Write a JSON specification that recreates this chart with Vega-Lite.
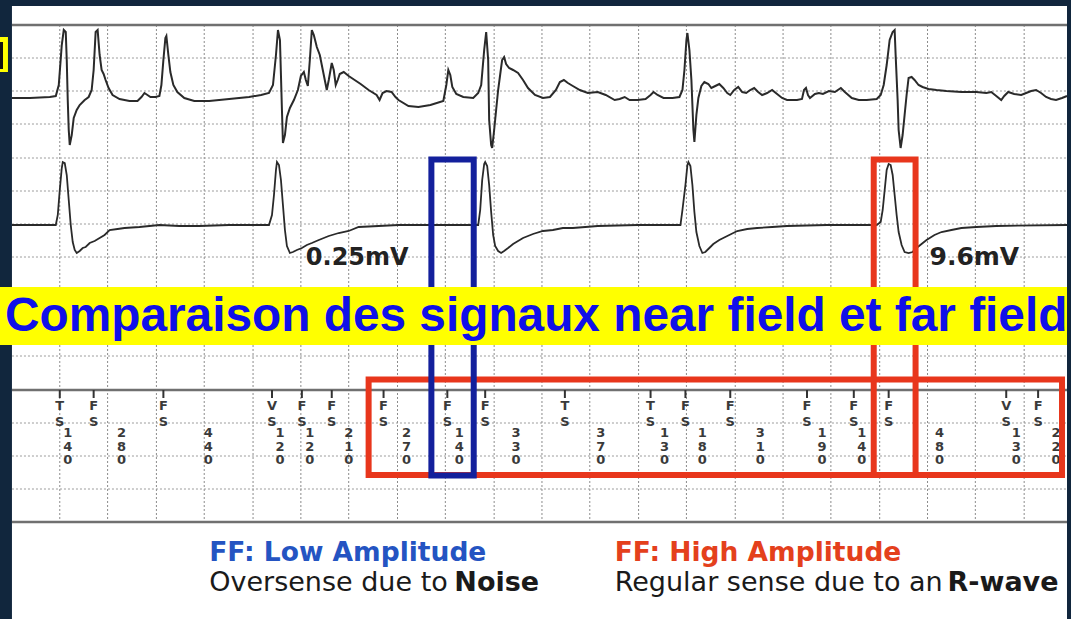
{
  "$schema": "https://vega.github.io/schema/vega-lite/v6.json",
  "width": 1071,
  "height": 619,
  "padding": 0,
  "autosize": {"type": "fit", "contains": "padding"},
  "background": "#11263d",
  "config": {"view": {"stroke": null}, "axis": {"disable": true}},
  "datasets": {
    "trace1": [
      {"t":12,"v":98},{"t":30,"v":98},{"t":50,"v":97},{"t":56,"v":96},{"t":59,"v":85},{"t":62,"v":45},{"t":64,"v":30},{"t":66,"v":32},{"t":67,"v":60},{"t":68,"v":100},{"t":69,"v":130},{"t":70,"v":145},{"t":72,"v":135},{"t":74,"v":118},{"t":77,"v":110},{"t":80,"v":105},{"t":85,"v":100},{"t":89,"v":97},{"t":92,"v":90},{"t":94,"v":70},{"t":96,"v":32},{"t":98,"v":30},{"t":100,"v":55},{"t":102,"v":70},{"t":104,"v":74},{"t":106,"v":80},{"t":109,"v":88},{"t":113,"v":95},{"t":120,"v":99},{"t":130,"v":101},{"t":138,"v":101},{"t":142,"v":97},{"t":145,"v":93},{"t":148,"v":95},{"t":151,"v":97},{"t":156,"v":97},{"t":160,"v":96},{"t":162,"v":85},{"t":164,"v":60},{"t":166,"v":38},{"t":167,"v":36},{"t":169,"v":55},{"t":171,"v":72},{"t":174,"v":85},{"t":178,"v":92},{"t":185,"v":98},{"t":195,"v":101},{"t":210,"v":101},{"t":230,"v":99},{"t":250,"v":97},{"t":262,"v":95},{"t":270,"v":93},{"t":274,"v":85},{"t":277,"v":55},{"t":279,"v":30},{"t":281,"v":40},{"t":282,"v":75},{"t":283,"v":110},{"t":284,"v":143},{"t":286,"v":135},{"t":288,"v":117},{"t":291,"v":108},{"t":295,"v":100},{"t":299,"v":90},{"t":302,"v":76},{"t":305,"v":72},{"t":307,"v":80},{"t":309,"v":86},{"t":311,"v":60},{"t":313,"v":30},{"t":315,"v":35},{"t":318,"v":47},{"t":321,"v":55},{"t":324,"v":70},{"t":328,"v":90},{"t":330,"v":80},{"t":333,"v":63},{"t":335,"v":70},{"t":337,"v":85},{"t":339,"v":80},{"t":341,"v":74},{"t":345,"v":72},{"t":350,"v":76},{"t":356,"v":80},{"t":362,"v":84},{"t":370,"v":90},{"t":378,"v":95},{"t":381,"v":100},{"t":384,"v":93},{"t":388,"v":91},{"t":393,"v":92},{"t":397,"v":97},{"t":400,"v":100},{"t":410,"v":106},{"t":420,"v":107},{"t":432,"v":105},{"t":445,"v":101},{"t":448,"v":85},{"t":450,"v":70},{"t":452,"v":75},{"t":454,"v":87},{"t":458,"v":94},{"t":465,"v":97},{"t":475,"v":98},{"t":480,"v":93},{"t":483,"v":85},{"t":486,"v":50},{"t":488,"v":32},{"t":490,"v":60},{"t":491,"v":120},{"t":493,"v":145},{"t":494,"v":148},{"t":496,"v":130},{"t":498,"v":110},{"t":500,"v":90},{"t":502,"v":75},{"t":504,"v":60},{"t":506,"v":57},{"t":508,"v":64},{"t":511,"v":68},{"t":515,"v":70},{"t":520,"v":73},{"t":525,"v":80},{"t":530,"v":88},{"t":537,"v":95},{"t":545,"v":98},{"t":552,"v":97},{"t":558,"v":90},{"t":562,"v":82},{"t":566,"v":80},{"t":570,"v":83},{"t":575,"v":86},{"t":582,"v":90},{"t":590,"v":93},{"t":600,"v":92},{"t":608,"v":95},{"t":617,"v":100},{"t":622,"v":99},{"t":627,"v":97},{"t":632,"v":100},{"t":640,"v":100},{"t":648,"v":99},{"t":653,"v":95},{"t":656,"v":92},{"t":660,"v":95},{"t":666,"v":98},{"t":675,"v":98},{"t":682,"v":97},{"t":685,"v":90},{"t":687,"v":70},{"t":689,"v":40},{"t":690,"v":33},{"t":692,"v":50},{"t":694,"v":80},{"t":696,"v":130},{"t":697,"v":142},{"t":699,"v":115},{"t":701,"v":98},{"t":704,"v":86},{"t":707,"v":82},{"t":711,"v":84},{"t":714,"v":88},{"t":718,"v":86},{"t":722,"v":84},{"t":726,"v":88},{"t":730,"v":93},{"t":733,"v":95},{"t":737,"v":90},{"t":741,"v":87},{"t":745,"v":92},{"t":749,"v":93},{"t":753,"v":90},{"t":757,"v":88},{"t":761,"v":92},{"t":765,"v":95},{"t":770,"v":93},{"t":775,"v":90},{"t":780,"v":94},{"t":785,"v":98},{"t":790,"v":100},{"t":800,"v":100},{"t":805,"v":99},{"t":807,"v":90},{"t":809,"v":88},{"t":811,"v":95},{"t":813,"v":98},{"t":818,"v":94},{"t":822,"v":93},{"t":826,"v":94},{"t":832,"v":91},{"t":838,"v":92},{"t":844,"v":88},{"t":848,"v":92},{"t":855,"v":98},{"t":862,"v":100},{"t":870,"v":100},{"t":880,"v":99},{"t":884,"v":95},{"t":887,"v":85},{"t":890,"v":65},{"t":893,"v":40},{"t":896,"v":32},{"t":898,"v":30},{"t":899,"v":55},{"t":901,"v":100},{"t":902,"v":130},{"t":904,"v":148},{"t":906,"v":135},{"t":908,"v":115},{"t":910,"v":95},{"t":912,"v":78},{"t":915,"v":77},{"t":918,"v":80},{"t":922,"v":85},{"t":926,"v":87},{"t":932,"v":89},{"t":940,"v":90},{"t":950,"v":91},{"t":965,"v":92},{"t":980,"v":92},{"t":990,"v":93},{"t":995,"v":92},{"t":1000,"v":96},{"t":1005,"v":100},{"t":1008,"v":96},{"t":1012,"v":92},{"t":1018,"v":94},{"t":1025,"v":95},{"t":1030,"v":93},{"t":1035,"v":91},{"t":1040,"v":90},{"t":1045,"v":93},{"t":1050,"v":97},{"t":1055,"v":99},{"t":1060,"v":100},{"t":1066,"v":98},{"t":1071,"v":96}
    ],
    "trace2": [
      {"t":12,"v":225},{"t":56,"v":225},{"t":58,"v":215},{"t":60,"v":190},{"t":62,"v":168},{"t":63,"v":162},{"t":65,"v":163},{"t":67,"v":175},{"t":69,"v":200},{"t":71,"v":225},{"t":73,"v":242},{"t":75,"v":250},{"t":77,"v":253},{"t":80,"v":251},{"t":83,"v":248},{"t":86,"v":247},{"t":90,"v":243},{"t":95,"v":241},{"t":100,"v":238},{"t":105,"v":235},{"t":110,"v":230},{"t":118,"v":229},{"t":125,"v":228},{"t":140,"v":227},{"t":150,"v":226},{"t":160,"v":225},{"t":180,"v":226},{"t":200,"v":226},{"t":230,"v":225},{"t":270,"v":225},{"t":273,"v":215},{"t":275,"v":195},{"t":277,"v":170},{"t":278,"v":162},{"t":280,"v":165},{"t":282,"v":180},{"t":284,"v":205},{"t":286,"v":230},{"t":288,"v":246},{"t":291,"v":253},{"t":294,"v":252},{"t":298,"v":250},{"t":303,"v":248},{"t":308,"v":245},{"t":313,"v":243},{"t":320,"v":240},{"t":330,"v":236},{"t":340,"v":233},{"t":350,"v":231},{"t":360,"v":227},{"t":380,"v":226},{"t":400,"v":225},{"t":480,"v":225},{"t":482,"v":210},{"t":484,"v":180},{"t":486,"v":164},{"t":487,"v":162},{"t":489,"v":166},{"t":491,"v":185},{"t":493,"v":212},{"t":495,"v":235},{"t":497,"v":246},{"t":500,"v":251},{"t":503,"v":253},{"t":506,"v":251},{"t":510,"v":248},{"t":515,"v":244},{"t":520,"v":241},{"t":525,"v":238},{"t":535,"v":234},{"t":545,"v":231},{"t":555,"v":230},{"t":565,"v":228},{"t":575,"v":228},{"t":600,"v":226},{"t":640,"v":225},{"t":683,"v":225},{"t":685,"v":210},{"t":688,"v":185},{"t":690,"v":165},{"t":691,"v":162},{"t":693,"v":166},{"t":695,"v":185},{"t":697,"v":212},{"t":699,"v":232},{"t":702,"v":246},{"t":705,"v":253},{"t":708,"v":252},{"t":712,"v":248},{"t":716,"v":244},{"t":722,"v":240},{"t":730,"v":236},{"t":740,"v":231},{"t":750,"v":229},{"t":760,"v":228},{"t":775,"v":227},{"t":790,"v":226},{"t":830,"v":225},{"t":880,"v":225},{"t":884,"v":222},{"t":886,"v":210},{"t":888,"v":190},{"t":890,"v":170},{"t":892,"v":164},{"t":894,"v":165},{"t":896,"v":175},{"t":898,"v":195},{"t":900,"v":215},{"t":902,"v":232},{"t":905,"v":245},{"t":908,"v":252},{"t":912,"v":253},{"t":916,"v":252},{"t":920,"v":248},{"t":925,"v":244},{"t":930,"v":240},{"t":938,"v":235},{"t":945,"v":232},{"t":955,"v":230},{"t":965,"v":228},{"t":980,"v":227},{"t":1000,"v":226},{"t":1071,"v":225}
    ],
    "vgrid": [
      {"t":60},{"t":108},{"t":157},{"t":205},{"t":254},{"t":302},{"t":350},{"t":399},{"t":447},{"t":496},{"t":544},{"t":592},{"t":641},{"t":689},{"t":738},{"t":786},{"t":834},{"t":883},{"t":931},{"t":979},{"t":1028}
    ],
    "hgrid": [
      {"v":58},{"v":91},{"v":124},{"v":158},{"v":191},{"v":224},{"v":257},{"v":290},{"v":323},{"v":356},{"v":423},{"v":456},{"v":489}
    ],
    "hframe": [{"v":25},{"v":390},{"v":522}],
    "markers": [
      {"t":60,"code":"T\nS"},{"t":94,"code":"F\nS"},{"t":164,"code":"F\nS"},{"t":273,"code":"V\nS"},{"t":303,"code":"F\nS"},{"t":333,"code":"F\nS"},{"t":385,"code":"F\nS"},{"t":449,"code":"F\nS"},{"t":487,"code":"F\nS"},{"t":567,"code":"T\nS"},{"t":653,"code":"T\nS"},{"t":688,"code":"F\nS"},{"t":733,"code":"F\nS"},{"t":810,"code":"F\nS"},{"t":857,"code":"F\nS"},{"t":892,"code":"F\nS"},{"t":1010,"code":"V\nS"},{"t":1042,"code":"F\nS"}
    ],
    "intervals": [
      {"t":68,"ms":"1\n4\n0"},{"t":122,"ms":"2\n8\n0"},{"t":209,"ms":"4\n4\n0"},{"t":281,"ms":"1\n2\n0"},{"t":311,"ms":"1\n2\n0"},{"t":350,"ms":"2\n1\n0"},{"t":408,"ms":"2\n7\n0"},{"t":461,"ms":"1\n4\n0"},{"t":518,"ms":"3\n3\n0"},{"t":603,"ms":"3\n7\n0"},{"t":667,"ms":"1\n3\n0"},{"t":705,"ms":"1\n8\n0"},{"t":763,"ms":"3\n1\n0"},{"t":825,"ms":"1\n9\n0"},{"t":865,"ms":"1\n4\n0"},{"t":943,"ms":"4\n8\n0"},{"t":1020,"ms":"1\n3\n0"},{"t":1060,"ms":"2\n2\n0"}
    ],
    "redBoxes": [
      {"t":370,"t2":1066,"v":379.5,"v2":475},
      {"t":877,"t2":919,"v":159.5,"v2":475}
    ],
    "blueBox": [
      {"t":433,"t2":475.5,"v":159.5,"v2":475.5}
    ]
  },
  "layer": [
    {
      "data": {"values": [{}]},
      "mark": {"type": "rect", "fill": "#ffffff"},
      "encoding": {
        "x": {"datum": 12, "type": "quantitative", "scale": {"domain": [0, 1071], "nice": false, "zero": false}},
        "x2": {"datum": 1071},
        "y": {"datum": 6, "type": "quantitative", "scale": {"domain": [0, 619], "nice": false, "zero": false, "reverse": true}},
        "y2": {"datum": 619}
      }
    },
    {
      "data": {"name": "vgrid"},
      "mark": {"type": "rule", "stroke": "#8c8c8c", "strokeWidth": 1, "strokeDash": [2, 2]},
      "encoding": {
        "x": {"field": "t", "type": "quantitative"},
        "y": {"datum": 25, "type": "quantitative"},
        "y2": {"datum": 522}
      }
    },
    {
      "data": {"name": "hgrid"},
      "mark": {"type": "rule", "stroke": "#9c9c9c", "strokeWidth": 1, "strokeDash": [2, 2]},
      "encoding": {
        "y": {"field": "v", "type": "quantitative"},
        "x": {"datum": 12, "type": "quantitative"},
        "x2": {"datum": 1071}
      }
    },
    {
      "data": {"name": "hframe"},
      "mark": {"type": "rule", "stroke": "#707070", "strokeWidth": 2.5},
      "encoding": {
        "y": {"field": "v", "type": "quantitative"},
        "x": {"datum": 12, "type": "quantitative"},
        "x2": {"datum": 1071}
      }
    },
    {
      "data": {"name": "trace1"},
      "mark": {"type": "line", "stroke": "#2a2a2a", "strokeWidth": 2, "interpolate": "linear"},
      "encoding": {
        "x": {"field": "t", "type": "quantitative"},
        "y": {"field": "v", "type": "quantitative"}
      }
    },
    {
      "data": {"name": "trace2"},
      "mark": {"type": "line", "stroke": "#2a2a2a", "strokeWidth": 1.8, "interpolate": "linear"},
      "encoding": {
        "x": {"field": "t", "type": "quantitative"},
        "y": {"field": "v", "type": "quantitative"}
      }
    },
    {
      "data": {"name": "markers"},
      "mark": {"type": "rule", "stroke": "#333333", "strokeWidth": 2},
      "encoding": {
        "x": {"field": "t", "type": "quantitative"},
        "y": {"datum": 390, "type": "quantitative"},
        "y2": {"datum": 398}
      }
    },
    {
      "data": {"name": "markers"},
      "mark": {"type": "text", "font": "DejaVu Sans", "fontWeight": "bold", "fontSize": 13, "fill": "#3a3a3a", "align": "center", "baseline": "top", "lineBreak": "\n", "lineHeight": 16},
      "encoding": {
        "x": {"field": "t", "type": "quantitative"},
        "y": {"datum": 400, "type": "quantitative"},
        "text": {"field": "code"}
      }
    },
    {
      "data": {"name": "intervals"},
      "mark": {"type": "text", "font": "DejaVu Sans", "fontWeight": "bold", "fontSize": 13, "fill": "#3a3a3a", "align": "center", "baseline": "top", "lineBreak": "\n", "lineHeight": 13.5},
      "encoding": {
        "x": {"field": "t", "type": "quantitative"},
        "y": {"datum": 427, "type": "quantitative"},
        "text": {"field": "ms"}
      }
    },
    {
      "data": {"values": [{"label": "0.25mV"}]},
      "mark": {"type": "text", "font": "DejaVu Sans", "fontWeight": "bold", "fontSize": 24, "fill": "#222222", "align": "left", "baseline": "alphabetic"},
      "encoding": {
        "x": {"datum": 307, "type": "quantitative"},
        "y": {"datum": 265, "type": "quantitative"},
        "text": {"field": "label"}
      }
    },
    {
      "data": {"values": [{"label": "9.6mV"}]},
      "mark": {"type": "text", "font": "DejaVu Sans", "fontWeight": "bold", "fontSize": 25, "fill": "#222222", "align": "left", "baseline": "alphabetic"},
      "encoding": {
        "x": {"datum": 933, "type": "quantitative"},
        "y": {"datum": 265, "type": "quantitative"},
        "text": {"field": "label"}
      }
    },
    {
      "data": {"name": "redBoxes"},
      "mark": {"type": "rect", "filled": false, "stroke": "#e8361c", "strokeWidth": 6},
      "encoding": {
        "x": {"field": "t", "type": "quantitative"},
        "x2": {"field": "t2"},
        "y": {"field": "v", "type": "quantitative"},
        "y2": {"field": "v2"}
      }
    },
    {
      "data": {"name": "blueBox"},
      "mark": {"type": "rect", "filled": false, "stroke": "#13209c", "strokeWidth": 6},
      "encoding": {
        "x": {"field": "t", "type": "quantitative"},
        "x2": {"field": "t2"},
        "y": {"field": "v", "type": "quantitative"},
        "y2": {"field": "v2"}
      }
    },
    {
      "data": {"values": [{}]},
      "mark": {"type": "rect", "fill": "#ffff00"},
      "encoding": {
        "x": {"datum": 0, "type": "quantitative"},
        "x2": {"datum": 1071},
        "y": {"datum": 287, "type": "quantitative"},
        "y2": {"datum": 345}
      }
    },
    {
      "data": {"values": [{"label": "Comparaison des signaux near field et far field"}]},
      "mark": {"type": "text", "font": "Liberation Sans", "fontWeight": "bold", "fontSize": 47.8, "fill": "#1010e8", "align": "left", "baseline": "alphabetic"},
      "encoding": {
        "x": {"datum": 5, "type": "quantitative"},
        "y": {"datum": 331, "type": "quantitative"},
        "text": {"field": "label"}
      }
    },
    {
      "data": {"values": [{}]},
      "mark": {"type": "rect", "fill": "#ffff00"},
      "encoding": {
        "x": {"datum": 0, "type": "quantitative"},
        "x2": {"datum": 8},
        "y": {"datum": 37, "type": "quantitative"},
        "y2": {"datum": 72}
      }
    },
    {
      "data": {"values": [{}]},
      "mark": {"type": "rule", "stroke": "#111111", "strokeWidth": 3},
      "encoding": {
        "x": {"datum": 1.5, "type": "quantitative"},
        "y": {"datum": 42, "type": "quantitative"},
        "y2": {"datum": 69}
      }
    },
    {
      "data": {"values": [{"label": "FF: Low Amplitude"}]},
      "mark": {"type": "text", "font": "DejaVu Sans", "fontWeight": "bold", "fontSize": 26.5, "fill": "#2454c2", "align": "left", "baseline": "alphabetic"},
      "encoding": {
        "x": {"datum": 210, "type": "quantitative"},
        "y": {"datum": 561, "type": "quantitative"},
        "text": {"field": "label"}
      }
    },
    {
      "data": {"values": [{"label": "Oversense due to"}]},
      "mark": {"type": "text", "font": "DejaVu Sans", "fontSize": 27, "fill": "#1a1a1a", "align": "left", "baseline": "alphabetic"},
      "encoding": {
        "x": {"datum": 210, "type": "quantitative"},
        "y": {"datum": 591, "type": "quantitative"},
        "text": {"field": "label"}
      }
    },
    {
      "data": {"values": [{"label": "Noise"}]},
      "mark": {"type": "text", "font": "DejaVu Sans", "fontWeight": "bold", "fontSize": 27, "fill": "#1a1a1a", "align": "left", "baseline": "alphabetic"},
      "encoding": {
        "x": {"datum": 456, "type": "quantitative"},
        "y": {"datum": 591, "type": "quantitative"},
        "text": {"field": "label"}
      }
    },
    {
      "data": {"values": [{"label": "FF: High Amplitude"}]},
      "mark": {"type": "text", "font": "DejaVu Sans", "fontWeight": "bold", "fontSize": 26.5, "fill": "#e4401c", "align": "left", "baseline": "alphabetic"},
      "encoding": {
        "x": {"datum": 617, "type": "quantitative"},
        "y": {"datum": 561, "type": "quantitative"},
        "text": {"field": "label"}
      }
    },
    {
      "data": {"values": [{"label": "Regular sense due to an"}]},
      "mark": {"type": "text", "font": "DejaVu Sans", "fontSize": 27, "fill": "#1a1a1a", "align": "left", "baseline": "alphabetic"},
      "encoding": {
        "x": {"datum": 617, "type": "quantitative"},
        "y": {"datum": 591, "type": "quantitative"},
        "text": {"field": "label"}
      }
    },
    {
      "data": {"values": [{"label": "R-wave"}]},
      "mark": {"type": "text", "font": "DejaVu Sans", "fontWeight": "bold", "fontSize": 27, "fill": "#1a1a1a", "align": "left", "baseline": "alphabetic"},
      "encoding": {
        "x": {"datum": 951, "type": "quantitative"},
        "y": {"datum": 591, "type": "quantitative"},
        "text": {"field": "label"}
      }
    }
  ]
}
